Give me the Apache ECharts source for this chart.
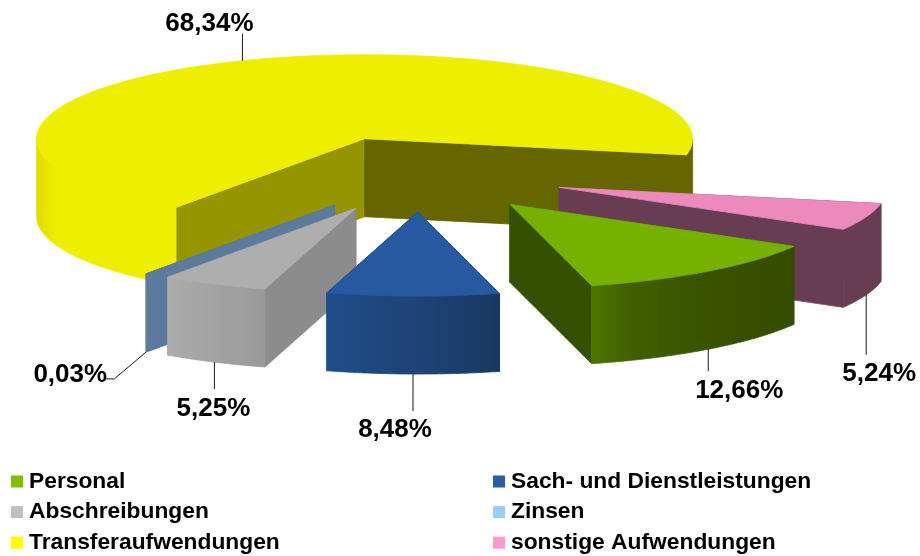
<!DOCTYPE html>
<html>

<head>
    <meta charset="utf-8">
    <script src="https://cdn.jsdelivr.net/npm/echarts@6/dist/echarts.min.js"></script>
</head>

<body style="margin:0;background:#fff">
<div id="main" style="position:absolute;top:0;left:0;width:920px;height:556px;"></div>
<script type="text/javascript">
    // data
    var categories = ['Personal', 'Sach- und Dienstleistungen', 'Abschreibungen', 'Zinsen', 'Transferaufwendungen', 'sonstige Aufwendungen'];
    var shares = [12.66, 8.48, 5.25, 0.03, 68.34, 5.24];

    // back to front, later slices cover earlier ones
    var drawOrder = [4, 5, 0, 3, 2, 1];

    // styles per slice, same order as categories
    var legendColors = ['#7FBF00', '#2A5CAA', '#C0C0C0', '#99CCFF', '#FFFF00', '#FF99CC'];
    var topColors = ['#76B000', '#26599F', '#AEAEAE', '#5B7A9C', '#EEEE00', '#EC8ABC'];
    var startWallColors = ['#355000', '#1C4178', '#8C8C8C', '#5B7A9C', '#959500', '#683D53'];
    var endWallColors = ['#355000', '#1C4178', '#8C8C8C', '#5B7A9C', '#666600', '#683D53'];
    var rimStops = [
        [[0, '#4C7600'], [0.2, '#415F00'], [0.6, '#385200'], [1, '#344D00']],
        [[0, '#204C88'], [0.5, '#1E4478'], [1, '#183860']],
        [[0, '#ABABAB'], [1, '#999999']],
        [[0, '#5B7A9C'], [1, '#5B7A9C']],
        [[0, '#DEDE00'], [0.15, '#EEEE00'], [1, '#EEEE00']],
        [[0, '#683D53'], [1, '#683D53']]
    ];

    // leader line bends and label centre, relative to where the leader starts on the slice
    var leaderBends = [[[0, 22]], [[0, 37]], [[0, 27]], [[-32, 27], [-40, 27]], [[0, -27]], [[0, 60]]];
    var labelOffsets = [[31, 42], [-18, 56], [-1, 47], [-76, 23], [-33, -37], [13, 79]];

    var pieX = 420, pieY = 174, radiusX = 328, radiusY = 84, depth = 78, explode = 0.453;
    var firstAngle = 30; // clockwise from east

    var total = shares.reduce(function (a, b) { return a + b; }, 0);
    var startAngles = [];
    shares.reduce(function (a, v, i) {
        startAngles[i] = a;
        return a + v / total * 360;
    }, firstAngle);

    function rad(d) {
        return d * Math.PI / 180;
    }

    function arcPoints(cx, cy, a0, a1) {
        var pts = [], n = Math.max(2, Math.ceil(Math.abs(a1 - a0) * 1.5));
        for (var i = 0; i <= n; i++) {
            var a = rad(a0 + (a1 - a0) * i / n);
            pts.push([cx + radiusX * Math.cos(a), cy + radiusY * Math.sin(a)]);
        }
        return pts;
    }

    function poly(points, fill) {
        return {type: 'polygon', shape: {points: points}, style: {fill: fill, stroke: fill, lineWidth: 0.8}};
    }

    // rim between two angles, only the part facing the viewer should be asked for
    function rim(cx, cy, a0, a1, fill) {
        var top = arcPoints(cx, cy, a0, a1);
        var bottom = top.map(function (p) { return [p[0], p[1] + depth]; }).reverse();
        return poly(top.concat(bottom), fill);
    }

    function wall(cx, cy, a, fill) {
        var e = arcPoints(cx, cy, a, a)[0];
        return poly([[cx, cy], e, [e[0], e[1] + depth], [cx, cy + depth]], fill);
    }

    function renderSlice(idx) {
        return function (params, api) {
            var sweep = api.value(0) / total * 360;
            var a0 = startAngles[idx], a1 = a0 + sweep, mid = a0 + sweep / 2;
            var cx = pieX + explode * radiusX * Math.cos(rad(mid));
            var cy = pieY + explode * radiusY * Math.sin(rad(mid));
            var children = [];

            children.push(wall(cx, cy, a0, startWallColors[idx]));
            children.push(wall(cx, cy, a1, endWallColors[idx]));

            var grad = new echarts.graphic.LinearGradient(0, 0, 1, 0, rimStops[idx].map(function (s) {
                return {offset: s[0], color: s[1]};
            }));
            // front half of the ellipse is 0..180, and 360..540 on the way round
            if (a0 < 180) {
                children.push(rim(cx, cy, a0, Math.min(a1, 180), grad));
            }
            if (a1 > 360) {
                children.push(rim(cx, cy, Math.max(a0, 360), a1, endWallColors[idx]));
            }

            // top face
            children.push(poly([[cx, cy]].concat(arcPoints(cx, cy, a0, a1)), topColors[idx]));

            // leader and label hang off the middle of the slice
            var p = arcPoints(cx, cy, mid, mid)[0];
            var front = Math.sin(rad(mid)) > 0;
            var sx = p[0], sy = p[1] + (front ? depth : 0);
            var line = [[sx, sy]].concat(leaderBends[idx].map(function (b) {
                return [sx + b[0], sy + b[1]];
            }));
            children.push({
                type: 'polyline',
                shape: {points: line},
                style: {fill: null, stroke: '#1a1a1a', lineWidth: 1}
            });
            children.push({
                type: 'text',
                x: sx + labelOffsets[idx][0],
                y: sy + labelOffsets[idx][1],
                style: {
                    text: api.value(0).toFixed(2).replace('.', ',') + '%',
                    fill: '#000',
                    font: 'bold 26px "Liberation Sans"',
                    align: 'center',
                    verticalAlign: 'middle'
                }
            });
            return {type: 'group', children: children};
        };
    }

    var series = drawOrder.map(function (idx) {
        return {
            type: 'custom',
            name: categories[idx],
            coordinateSystem: 'none',
            silent: true,
            animation: false,
            itemStyle: {color: legendColors[idx]},
            data: [[shares[idx]]],
            renderItem: renderSlice(idx)
        };
    });

    function legendColumn(left, names) {
        return {
            left: left,
            top: 470,
            orient: 'vertical',
            selectedMode: false,
            padding: 0,
            itemWidth: 12,
            itemHeight: 12,
            itemGap: 7.6,
            icon: 'rect',
            textStyle: {
                fontFamily: 'Liberation Sans',
                fontWeight: 'bold',
                fontSize: 22.8,
                color: '#000',
                padding: [0, 0, 0, 1],
                lineHeight: 23
            },
            data: names
        };
    }

    var myChart = echarts.init(document.getElementById('main'), null, {renderer: 'canvas'});
    myChart.setOption({
        animation: false,
        backgroundColor: '#fff',
        legend: [
            legendColumn(11, [categories[0], categories[2], categories[4]]),
            legendColumn(493, [categories[1], categories[3], categories[5]])
        ],
        series: series
    });
</script>
</body>

</html>
